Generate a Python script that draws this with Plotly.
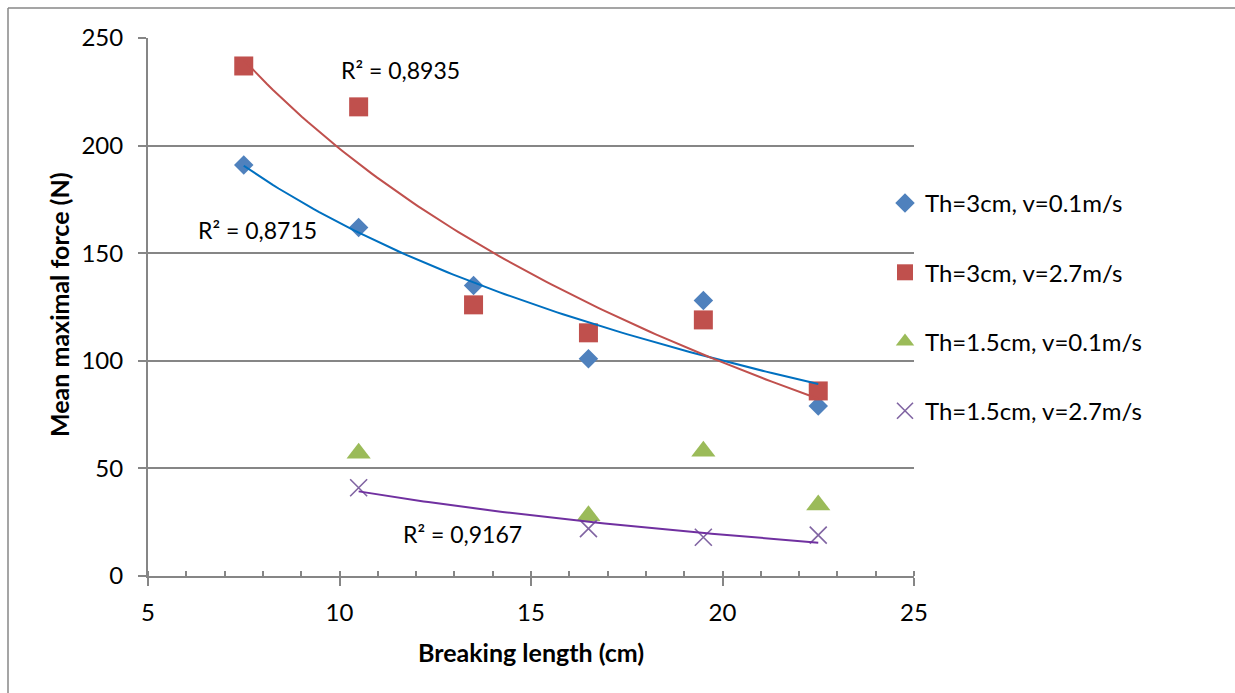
import numpy as np
import plotly.graph_objects as go

# ---- data ----
breaking_length = [7.5, 10.5, 13.5, 16.5, 19.5, 22.5]
force_th3_v01 = [191, 162, 135, 101, 128, 79]
force_th3_v27 = [237, 218, 126, 113, 119, 86]
length_th15 = [10.5, 16.5, 19.5, 22.5]
force_th15_v01 = [57, 28, 58, 33]
length_th15_v27 = [10.5, 16.5, 19.5, 22.5]
force_th15_v27 = [41, 22, 18, 19]

series_names = ["Th=3cm, v=0.1m/s", "Th=3cm, v=2.7m/s",
                "Th=1.5cm, v=0.1m/s", "Th=1.5cm, v=2.7m/s"]
r2_labels = ["R² = 0,8715", "R² = 0,8935", "R² = 0,9167"]

FONT = "Lato"
GRID = "#868686"

W, H = 1235, 693
L, R, T, B = 148, 914, 38, 576
pw, ph = R - L, B - T

def px_x(p):
    return (p - L) / pw

def px_y(p):
    return (B - p) / ph

def log_fit(x, y):
    x = np.asarray(x, float)
    y = np.asarray(y, float)
    a, b = np.polyfit(np.log(x), y, 1)
    xs = np.linspace(x.min(), x.max(), 100)
    return xs, a * np.log(xs) + b

fig = go.Figure()

fig.add_trace(go.Scatter(x=breaking_length, y=force_th3_v01, mode="markers",
                         name=series_names[0], legendgroup="a",
                         marker=dict(symbol="diamond", size=15, color="#4F81BD")))
fig.add_trace(go.Scatter(x=breaking_length, y=force_th3_v27, mode="markers",
                         name=series_names[1], legendgroup="b",
                         marker=dict(symbol="square", size=19, color="#C0504D")))
fig.add_trace(go.Scatter(x=length_th15, y=force_th15_v01, mode="markers",
                         name=series_names[2], legendgroup="c",
                         marker=dict(symbol="triangle-up", size=21, color="#9BBB59")))
fig.add_trace(go.Scatter(x=length_th15_v27, y=force_th15_v27, mode="markers",
                         name=series_names[3], legendgroup="d",
                         marker=dict(symbol="x-thin", size=17, color="#8064A2",
                                     line=dict(width=1.6, color="#8064A2"))))

# trendlines (logarithmic fits)
for xv, yv, col in [(breaking_length, force_th3_v01, "#0070C0"),
                    (breaking_length, force_th3_v27, "#C0504D"),
                    (length_th15_v27, force_th15_v27, "#7030A0")]:
    xs, ys = log_fit(xv, yv)
    fig.add_trace(go.Scatter(x=xs, y=ys, mode="lines", showlegend=False,
                             hoverinfo="skip", line=dict(color=col, width=2)))

ann_font = dict(family=FONT, size=23, color="#000000")
title_font = dict(family=FONT, size=25, color="#000000")
annotations = [
    dict(x=7.85, y=160.8, text=r2_labels[0], showarrow=False, font=ann_font),
    dict(x=11.58, y=235.1, text=r2_labels[1], showarrow=False, font=ann_font),
    dict(x=13.22, y=19.5, text=r2_labels[2], showarrow=False, font=ann_font),
    dict(xref="paper", yref="paper", x=px_x(531), y=px_y(652),
         text="<b>Breaking length (cm)</b>", showarrow=False,
         xanchor="center", yanchor="middle", font=title_font),
    dict(xref="paper", yref="paper", x=px_x(59), y=px_y(305),
         text="<b>Mean maximal force (N)</b>", showarrow=False, textangle=-90,
         xanchor="center", yanchor="middle", font=title_font),
]

shapes = [
    dict(type="line", xref="paper", yref="paper", x0=px_x(8), x1=px_x(8),
         y0=px_y(693), y1=px_y(8), line=dict(color="#878787", width=1.5)),
    dict(type="line", xref="paper", yref="paper", x0=px_x(8), x1=px_x(1240),
         y0=px_y(8), y1=px_y(8), line=dict(color="#878787", width=1.5)),
]

fig.update_layout(
    width=W, height=H,
    margin=dict(l=L, r=W - R, t=T, b=H - B, pad=0),
    paper_bgcolor="white", plot_bgcolor="white",
    font=dict(family=FONT, size=24, color="#000000"),
    annotations=annotations, shapes=shapes,
    showlegend=True,
    legend=dict(x=px_x(885), y=px_y(181), xanchor="left", yanchor="top",
                traceorder="grouped", tracegroupgap=35,
                font=dict(family=FONT, size=24, color="#000000"),
                bgcolor="rgba(0,0,0,0)"),
)

fig.update_xaxes(range=[5, 25], dtick=5, tick0=5, showgrid=False, zeroline=False,
                 showline=True, linecolor=GRID, linewidth=2,
                 ticks="outside", ticklen=8, tickwidth=2, tickcolor=GRID,
                 ticklabelstandoff=6,
                 minor=dict(dtick=1, ticks="inside", ticklen=5, tickwidth=1.5,
                            tickcolor=GRID, showgrid=False),
                 tickfont=dict(family=FONT, size=24, color="#000000"))
fig.update_yaxes(range=[0, 250], dtick=50, showgrid=True, gridcolor=GRID,
                 gridwidth=2, zeroline=False, showline=True, linecolor=GRID,
                 linewidth=2, ticks="outside", ticklen=8, tickwidth=2,
                 tickcolor=GRID, ticklabelstandoff=10,
                 tickfont=dict(family=FONT, size=24, color="#000000"))

fig.write_html("out.html")
